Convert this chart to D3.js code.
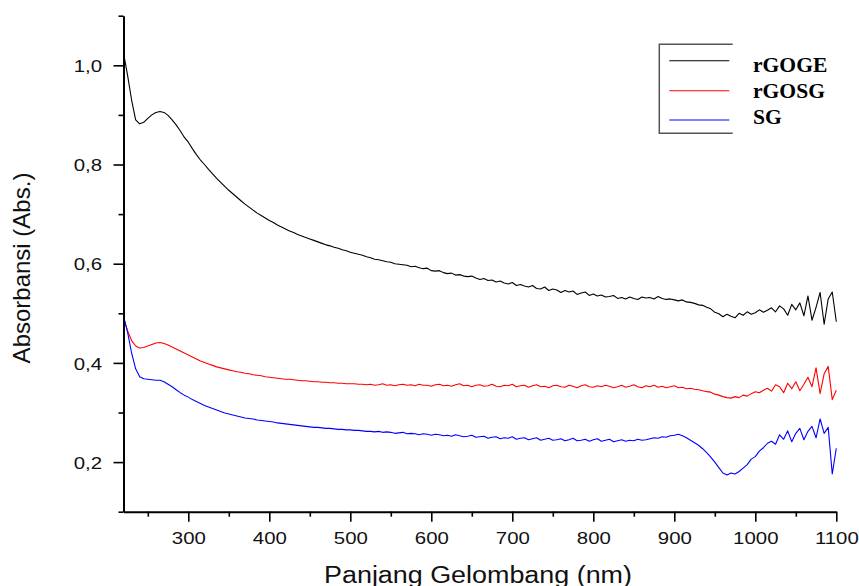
<!DOCTYPE html>
<html>
<head>
<meta charset="utf-8">
<script src="https://cdn.jsdelivr.net/npm/d3@7"></script>
<style>
  body { margin: 0; background: #fff; }
  svg { display: block; }
</style>
</head>
<body>
<div id="chart"></div>
<script>
// sampling grid of the spectrometer (nm), one reading every 5 nm
const WAVELENGTH = d3.range(220, 1101, 5);

const rGOGE = [
  1.025, 0.980, 0.930, 0.890, 0.882, 0.885, 0.893, 0.900, 0.905, 0.907,
  0.905, 0.899, 0.890, 0.880, 0.868, 0.855, 0.845, 0.832, 0.820, 0.809,
  0.800, 0.790, 0.781, 0.772, 0.764, 0.756, 0.748, 0.741, 0.734, 0.727,
  0.720, 0.714, 0.708, 0.702, 0.697, 0.692, 0.687, 0.683, 0.678, 0.674,
  0.670, 0.666, 0.663, 0.659, 0.656, 0.653, 0.650, 0.647, 0.644, 0.641,
  0.638, 0.636, 0.633, 0.631, 0.628, 0.626, 0.623, 0.621, 0.619, 0.617,
  0.614, 0.612, 0.609, 0.608, 0.606, 0.604, 0.603, 0.600, 0.599, 0.598,
  0.597, 0.594, 0.595, 0.592, 0.590, 0.591, 0.586, 0.585, 0.586, 0.582,
  0.580, 0.581, 0.577, 0.578, 0.575, 0.574, 0.575, 0.571, 0.568, 0.570,
  0.566, 0.567, 0.563, 0.565, 0.561, 0.559, 0.562, 0.556, 0.558, 0.555,
  0.553, 0.556, 0.550, 0.549, 0.553, 0.546, 0.549, 0.547, 0.542, 0.546,
  0.543, 0.545, 0.538, 0.541, 0.543, 0.536, 0.539, 0.535, 0.537, 0.533,
  0.534, 0.536, 0.530, 0.532, 0.529, 0.533, 0.530, 0.528, 0.533, 0.531,
  0.532, 0.529, 0.534, 0.530, 0.528, 0.529, 0.527, 0.525, 0.527, 0.523,
  0.522, 0.520, 0.517, 0.516, 0.512, 0.509, 0.502, 0.499, 0.493, 0.498,
  0.494, 0.491, 0.500, 0.496, 0.503, 0.498, 0.501, 0.507, 0.502, 0.506,
  0.511, 0.503, 0.515, 0.509, 0.496, 0.518, 0.507, 0.521, 0.495, 0.535,
  0.486, 0.512, 0.542, 0.478, 0.529, 0.543, 0.483
];

const rGOSG = [
  0.490, 0.465, 0.445, 0.434, 0.430, 0.431, 0.434, 0.437, 0.440, 0.441,
  0.439, 0.436, 0.432, 0.428, 0.424, 0.420, 0.416, 0.412, 0.408, 0.404,
  0.401, 0.398, 0.395, 0.392, 0.390, 0.388, 0.386, 0.384, 0.382, 0.381,
  0.379, 0.378, 0.376, 0.375, 0.374, 0.372, 0.371, 0.370, 0.369, 0.368,
  0.367, 0.367, 0.366, 0.365, 0.364, 0.364, 0.363, 0.362, 0.362, 0.361,
  0.361, 0.360, 0.360, 0.359, 0.359, 0.358, 0.358, 0.358, 0.357, 0.357,
  0.356, 0.357, 0.355, 0.356, 0.358, 0.355, 0.356, 0.354, 0.356, 0.357,
  0.355, 0.356, 0.354, 0.357, 0.355, 0.355, 0.353, 0.356, 0.357, 0.354,
  0.355, 0.353, 0.356, 0.358, 0.354, 0.355, 0.352, 0.355, 0.356, 0.353,
  0.354, 0.357, 0.353, 0.352, 0.355, 0.354, 0.357, 0.352, 0.354, 0.355,
  0.351, 0.354, 0.356, 0.352, 0.353, 0.350, 0.354, 0.355, 0.352, 0.351,
  0.355, 0.353, 0.350, 0.354, 0.356, 0.352, 0.351, 0.354, 0.352, 0.355,
  0.353, 0.350, 0.352, 0.355, 0.351, 0.353, 0.356, 0.352, 0.350, 0.354,
  0.352, 0.355, 0.351, 0.353, 0.350, 0.352, 0.354, 0.350, 0.351, 0.348,
  0.349, 0.347, 0.346, 0.344, 0.342, 0.341, 0.337, 0.335, 0.332, 0.330,
  0.329, 0.332, 0.330, 0.335, 0.333, 0.338, 0.342, 0.340, 0.345, 0.349,
  0.343, 0.356, 0.352, 0.340, 0.359, 0.348, 0.362, 0.344, 0.357, 0.371,
  0.352, 0.390, 0.338, 0.378, 0.393, 0.326, 0.345
];

const SG = [
  0.495, 0.462, 0.420, 0.388, 0.372, 0.368, 0.367, 0.366, 0.365, 0.365,
  0.362, 0.357, 0.352, 0.346, 0.340, 0.335, 0.331, 0.326, 0.322, 0.318,
  0.314, 0.311, 0.308, 0.305, 0.302, 0.299, 0.297, 0.295, 0.293, 0.291,
  0.289, 0.288, 0.287, 0.285, 0.284, 0.283, 0.282, 0.281, 0.279, 0.278,
  0.277, 0.276, 0.275, 0.274, 0.273, 0.272, 0.271, 0.270, 0.270, 0.269,
  0.268, 0.268, 0.267, 0.266, 0.266, 0.265, 0.265, 0.264, 0.264, 0.263,
  0.262, 0.262, 0.261, 0.262, 0.260, 0.261, 0.260, 0.258, 0.259, 0.260,
  0.257, 0.258, 0.257, 0.255, 0.257, 0.256, 0.254, 0.256, 0.255, 0.253,
  0.254, 0.252, 0.255, 0.253, 0.251, 0.252, 0.254, 0.250, 0.251, 0.252,
  0.248, 0.250, 0.251, 0.247, 0.249, 0.248, 0.251, 0.246, 0.248, 0.249,
  0.245, 0.247, 0.249, 0.244, 0.246, 0.248, 0.244, 0.245, 0.247, 0.243,
  0.245, 0.248, 0.243, 0.244, 0.246, 0.242, 0.245, 0.247, 0.242, 0.244,
  0.246, 0.241, 0.243, 0.245, 0.242, 0.244, 0.243, 0.246, 0.244, 0.245,
  0.247, 0.249, 0.248, 0.251, 0.250, 0.253, 0.254, 0.256, 0.253, 0.249,
  0.244, 0.239, 0.234, 0.227, 0.219, 0.210, 0.200, 0.189, 0.178, 0.174,
  0.178, 0.176, 0.181, 0.188, 0.195, 0.206, 0.211, 0.222, 0.229, 0.238,
  0.242, 0.236, 0.255, 0.246, 0.263, 0.241, 0.258, 0.268, 0.245, 0.262,
  0.272, 0.249, 0.287, 0.258, 0.270, 0.176, 0.228
];

const SERIES_NAMES = ["rGOGE", "rGOSG", "SG"];
const SERIES_COLORS = ["#000000", "#ff0000", "#0000ff"];

const X_MAJOR = [300, 400, 500, 600, 700, 800, 900, 1000, 1100];
const X_MINOR = [250, 350, 450, 550, 650, 750, 850, 950, 1050];
const Y_MAJOR = [0.2, 0.4, 0.6, 0.8, 1.0];
const Y_MINOR = [0.1, 0.3, 0.5, 0.7, 0.9, 1.1];

const width = 859;
const height = 586;
const SANS = "'Liberation Sans', Arial, sans-serif";
const SERIF = "'Liberation Serif', 'Times New Roman', serif";
const STRETCH = 1.2; // the original lettering is a bit wide

let x = d3.scaleLinear().domain([220, 1100]).range([123.5, 836.3]);
let y = d3.scaleLinear().domain([0.1, 1.1]).range([511.7, 15.7]);

let svg = d3.select("#chart")
  .append("svg")
  .attr("width", width)
  .attr("height", height);

let series = [rGOGE, rGOSG, SG].map(function (vals, i) {
  return {
    name: SERIES_NAMES[i],
    color: SERIES_COLORS[i],
    points: vals.map(function (v, j) { return [WAVELENGTH[j], v]; })
  };
});

let line = d3.line()
  .x(function (d) { return x(d[0]); })
  .y(function (d) { return y(d[1]); });

svg.append("g")
  .selectAll("path")
  .data(series)
  .join("path")
  .attr("d", function (d) { return line(d.points); })
  .attr("fill", "none")
  .attr("stroke", function (d) { return d.color; })
  .attr("stroke-width", 1.1)
  .attr("stroke-linejoin", "round");

// x axis
let xg = svg.append("g").attr("transform", "translate(0," + y(0.1) + ")");
xg.append("g")
  .call(d3.axisBottom(x).tickValues(X_MINOR).tickSize(5).tickSizeOuter(0).tickFormat(""))
  .call(function (g) { g.select(".domain").remove(); });
xg.append("g")
  .call(d3.axisBottom(x).tickValues(X_MAJOR).tickSize(10).tickSizeOuter(0).tickFormat(d3.format("d")));

// y axis
let yg = svg.append("g").attr("transform", "translate(" + x(220) + ",0)");
yg.append("g")
  .call(d3.axisLeft(y).tickValues(Y_MINOR).tickSize(5).tickSizeOuter(0).tickFormat(""))
  .call(function (g) { g.select(".domain").remove(); });
yg.append("g")
  .call(d3.axisLeft(y).tickValues(Y_MAJOR).tickSize(10).tickSizeOuter(0)
    .tickFormat(function (d) { return d3.format(".1f")(d).replace(".", ","); }));

svg.selectAll(".domain").attr("stroke", "#000").attr("stroke-width", 2);
svg.selectAll(".tick line").attr("stroke", "#000").attr("stroke-width", 1.6);

xg.selectAll("text")
  .attr("font-family", SANS)
  .attr("font-size", 17)
  .attr("fill", "#111")
  .attr("y", 32.5)
  .attr("dy", 0)
  .attr("transform", "scale(" + STRETCH + ",1)");

yg.selectAll("text")
  .attr("font-family", SANS)
  .attr("font-size", 17)
  .attr("fill", "#111")
  .attr("x", -21.5 / STRETCH)
  .attr("dy", "0.36em")
  .attr("transform", "scale(" + STRETCH + ",1)");

// axis titles
svg.append("text")
  .attr("transform", "translate(478,582.5) scale(1.17,1)")
  .attr("text-anchor", "middle")
  .attr("font-family", SANS)
  .attr("font-size", 23)
  .attr("fill", "#111")
  .text("Panjang Gelombang (nm)");

svg.append("text")
  .attr("transform", "translate(30,268) rotate(-90)")
  .attr("text-anchor", "middle")
  .attr("font-family", SANS)
  .attr("font-size", 24)
  .attr("fill", "#111")
  .text("Absorbansi (Abs.)");

// legend frame (open on the right)
svg.append("path")
  .attr("d", "M732.7,44.3 H659.3 V133.3 H732.7")
  .attr("fill", "none")
  .attr("stroke", "#555")
  .attr("stroke-width", 1.5);

const LEGEND_LINE_Y = [60.7, 90.7, 120];
const LEGEND_TEXT_Y = [72.3, 97.7, 124];

let legend = svg.append("g");
legend.selectAll("line")
  .data(series)
  .join("line")
  .attr("x1", 669.3)
  .attr("x2", 729.3)
  .attr("y1", function (d, i) { return LEGEND_LINE_Y[i]; })
  .attr("y2", function (d, i) { return LEGEND_LINE_Y[i]; })
  .attr("stroke", function (d) { return d.color; })
  .attr("stroke-width", 1.1);

legend.selectAll("text")
  .data(series)
  .join("text")
  .attr("transform", function (d, i) { return "translate(753," + LEGEND_TEXT_Y[i] + ") scale(1.08,1)"; })
  .attr("font-family", SERIF)
  .attr("font-weight", "bold")
  .attr("font-size", 20)
  .attr("fill", "#000")
  .text(function (d) { return d.name; });
</script>
</body>
</html>
